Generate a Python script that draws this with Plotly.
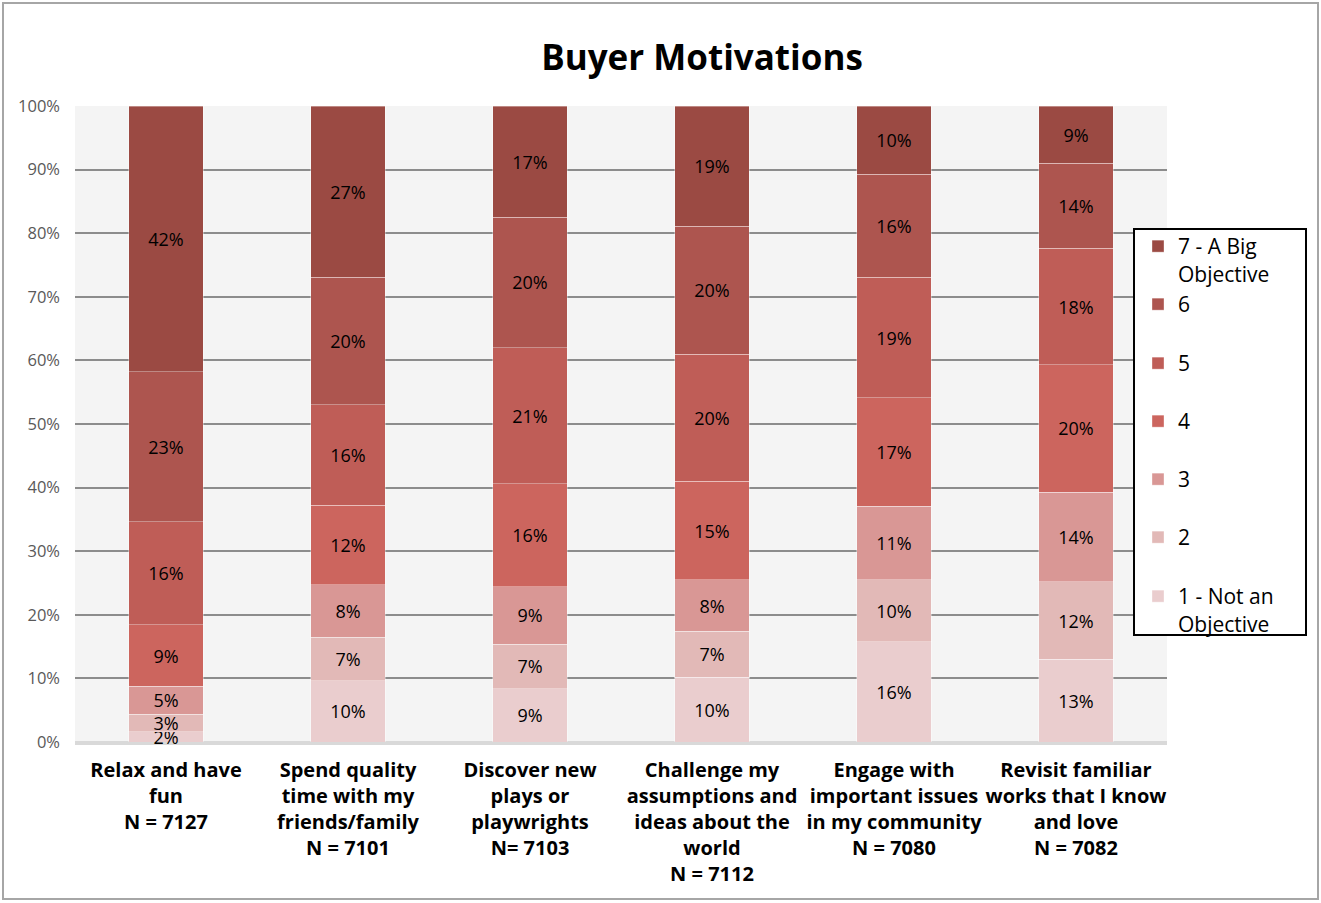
import plotly.graph_objects as go

categories = [
    "Relax and have<br>fun<br>N = 7127",
    "Spend quality<br>time with my<br>friends/family<br>N = 7101",
    "Discover new<br>plays or<br>playwrights<br>N= 7103",
    "Challenge my<br>assumptions and<br>ideas about the<br>world<br>N = 7112",
    "Engage with<br>important issues<br>in my community<br>N = 7080",
    "Revisit familiar<br>works that I know<br>and love<br>N = 7082",
]

series_names = [
    "1 - Not an<br>Objective", "2", "3", "4", "5", "6", "7 - A Big<br>Objective",
]

# share of respondents (%) per rating
s1 = [1.6, 9.6, 8.4, 10.2, 15.8, 13.0]
s2 = [2.8, 6.9, 7.0, 7.2, 9.7, 12.2]
s3 = [4.4, 8.2, 9.0, 8.1, 11.6, 14.1]
s4 = [9.6, 12.5, 16.2, 15.5, 17.0, 20.0]
s5 = [16.2, 15.8, 21.4, 20.0, 19.0, 18.3]
s6 = [23.6, 20.1, 20.5, 20.1, 16.2, 13.4]
s7 = [41.8, 26.9, 17.5, 18.9, 10.7, 9.0]

# data labels as printed on the chart
l1 = ["2%", "10%", "9%", "10%", "16%", "13%"]
l2 = ["3%", "7%", "7%", "7%", "10%", "12%"]
l3 = ["5%", "8%", "9%", "8%", "11%", "14%"]
l4 = ["9%", "12%", "16%", "15%", "17%", "20%"]
l5 = ["16%", "16%", "21%", "20%", "19%", "18%"]
l6 = ["23%", "20%", "20%", "20%", "16%", "14%"]
l7 = ["42%", "27%", "17%", "19%", "10%", "9%"]

colors = ["#EACDCE", "#E2B9B7", "#D99795", "#CC655E", "#BF5D57", "#AD554F", "#9B4A43"]

ytick_vals = [0, 10, 20, 30, 40, 50, 60, 70, 80, 90, 100]
ytick_text = ["0%", "10%", "20%", "30%", "40%", "50%", "60%", "70%", "80%", "90%", "100%"]

FONT = "Open Sans"
W, H = 1321, 903
L, R, T, B = 75, 1167, 106, 742  # plot area in pixels


def px_x(x):
    return (x - L) / (R - L)


def px_y(y):
    return (B - y) / (B - T)


values = [s1, s2, s3, s4, s5, s6, s7]
labels = [l1, l2, l3, l4, l5, l6, l7]

# legend entry first-line centers (pixels)
legend_centers = [596, 537, 479, 421, 363, 304, 246]

fig = go.Figure()
for i in range(7):
    lname = "legend" if i == 0 else f"legend{i + 1}"
    fig.add_trace(go.Bar(
        x=categories, y=values[i], name=series_names[i],
        marker=dict(color=colors[i], line=dict(color="rgba(255,255,255,0.35)", width=1)),
        text=labels[i], textposition="inside", insidetextanchor="middle",
        textangle=0, constraintext="none", cliponaxis=False,
        textfont=dict(family=FONT, size=18, color="#000000"),
        legend=lname, showlegend=True, hoverinfo="skip",
    ))

legend_layouts = {}
for i in range(7):
    key = "legend" if i == 0 else f"legend{i + 1}"
    legend_layouts[key] = dict(
        x=px_x(1138), xanchor="left",
        y=px_y(legend_centers[i] - 20), yanchor="top",
        bgcolor="rgba(0,0,0,0)", borderwidth=0,
        font=dict(family=FONT, size=21, color="#000000"),
        valign="top", itemclick=False, itemdoubleclick=False,
    )

fig.update_layout(
    width=W, height=H,
    margin=dict(l=L, r=W - R, t=T, b=H - B, pad=0),
    paper_bgcolor="#FFFFFF", plot_bgcolor="#F4F4F4",
    barmode="stack", bargap=0.593, showlegend=True,
    uniformtext=dict(minsize=18, mode="show"),
    title=dict(text="Buyer Motivations", x=702 / W, xref="container", xanchor="center",
               y=1 - 58 / H, yref="container", yanchor="middle",
               font=dict(family=FONT, size=35, color="#000000", weight="bold")),
    font=dict(family=FONT),
    **legend_layouts,
)

fig.update_yaxes(
    range=[0, 100], tickvals=ytick_vals, ticktext=ytick_text,
    tickfont=dict(family=FONT, size=16.5, color="#595959"),
    showgrid=True, gridcolor="#8C8C8C", gridwidth=2,
    zeroline=True, zerolinecolor="#D9D9D9", zerolinewidth=3,
    showline=False, ticks="", ticklabelstandoff=14, fixedrange=True,
    layer="below traces",
)
fig.update_xaxes(
    tickfont=dict(family=FONT, size=20, color="#000000", weight="bold"),
    showline=True, linecolor="#D9D9D9", linewidth=3,
    ticks="", ticklabelstandoff=8, fixedrange=True,
    layer="below traces",
)

# legend frame and outer chart frame
fig.add_shape(type="rect", xref="paper", yref="paper",
              x0=px_x(1134), x1=px_x(1306), y0=px_y(635), y1=px_y(229),
              fillcolor="#FFFFFF", line=dict(color="#000000", width=2), layer="above")
fig.add_shape(type="rect", xref="paper", yref="paper",
              x0=px_x(3), x1=px_x(1318), y0=px_y(899), y1=px_y(3),
              fillcolor="rgba(0,0,0,0)", line=dict(color="#A6A6A6", width=2), layer="below")

fig.write_html("out.html", config=dict(displayModeBar=False),
               post_script="document.body.style.margin='0px';")
